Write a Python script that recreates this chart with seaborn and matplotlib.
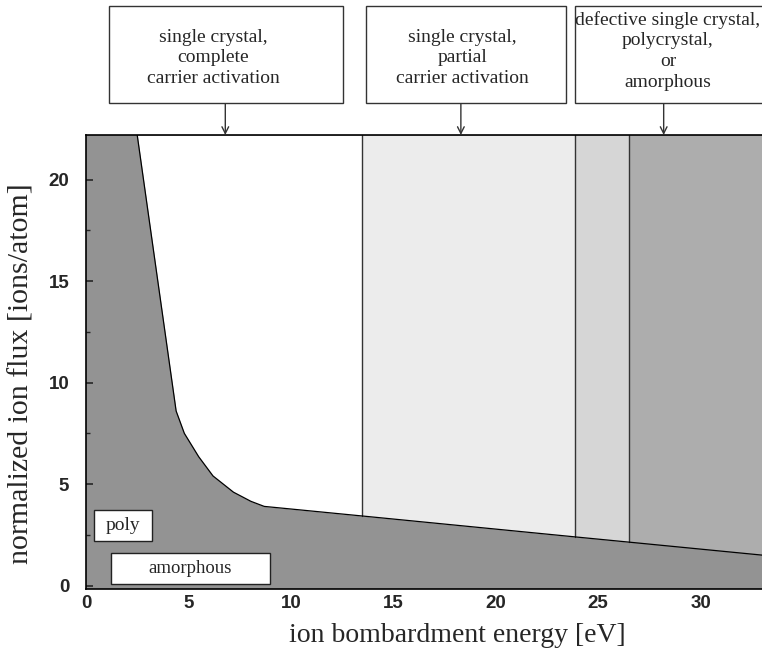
import matplotlib
matplotlib.use("Agg")
import matplotlib.pyplot as plt
from matplotlib.patches import Rectangle
from matplotlib.ticker import MultipleLocator
import numpy as np
import seaborn as sns

# ---- data ----
boundary_energy = [2.5, 4.4, 4.8, 5.5, 6.2, 7.2, 8.05, 8.7, 13.46, 23.85, 26.5, 33.0]
boundary_flux = [22.2, 8.6, 7.5, 6.35, 5.4, 4.6, 4.15, 3.9, 3.43, 2.40, 2.14, 1.5]
region_edges = [2.5, 13.46, 23.85, 26.5, 33.0]
region_colors = ["#ffffff", "#ececec", "#d6d6d6", "#adadad"]
background_color = "#939393"
arrow_energy = [6.8, 18.3, 28.2]
box_texts = [
    "single crystal,\ncomplete\ncarrier activation",
    "single crystal,\npartial\ncarrier activation",
    "defective single crystal,\npolycrystal,\nor\namorphous",
]
x_ticks = [0, 5, 10, 15, 20, 25, 30]
y_ticks = [0, 5, 10, 15, 20]
xlim = (0, 33.0)
ylim = (-0.17, 22.2)

sns.set_style("ticks")
plt.rcParams["font.family"] = ["Liberation Serif", "DejaVu Serif"]

W, H = 762, 659
fig = plt.figure(figsize=(W / 100, H / 100), dpi=100)
ax_left, ax_right, ax_top, ax_bottom = 86, 762, 135, 589
ax = fig.add_axes([ax_left / W, 1 - ax_bottom / H, (ax_right - ax_left) / W,
                   (ax_bottom - ax_top) / H])
ax.set_facecolor(background_color)
ax.set_xlim(*xlim)
ax.set_ylim(*ylim)

be = np.array(boundary_energy)
bf = np.array(boundary_flux)

# shaded regions above the boundary
for i, c in enumerate(region_colors):
    x0, x1 = region_edges[i], region_edges[i + 1]
    inner = be[(be > x0) & (be < x1)]
    xs = np.concatenate([[x0], inner, [x1]])
    ys = np.interp(xs, be, bf)
    ax.fill_between(xs, ys, ylim[1], color=c, lw=0, zorder=1)

# vertical region borders
for xe in region_edges[1:-1]:
    ax.plot([xe, xe], [np.interp(xe, be, bf), ylim[1]], color="#333333", lw=1.0, zorder=2)

# boundary line
sns.lineplot(x=boundary_energy, y=boundary_flux, sort=False, color="black", lw=0.9,
             ax=ax, zorder=3)

# small labelled boxes inside plot
ax.add_patch(Rectangle((0.4, 2.2), 2.8, 1.54, facecolor="white", edgecolor="#222222",
                       lw=1.0, zorder=4))
ax.text(1.8, 2.97, "poly", ha="center", va="center", fontsize=14, zorder=5)
ax.add_patch(Rectangle((1.2, 0.1), 7.8, 1.48, facecolor="white", edgecolor="#222222",
                       lw=1.0, zorder=4))
ax.text(5.1, 0.82, "amorphous", ha="center", va="center", fontsize=13.5, zorder=5)

# axes styling
for s in ["left", "bottom", "top"]:
    ax.spines[s].set_color("black")
    ax.spines[s].set_linewidth(1.2)
    ax.spines[s].set_zorder(6)
ax.spines["right"].set_visible(False)

ax.set_xticks(x_ticks)
ax.set_yticks(y_ticks)
ax.yaxis.set_minor_locator(MultipleLocator(2.5))
ax.tick_params(axis="x", length=0, pad=4, labelsize=13.5)
ax.tick_params(axis="y", which="major", direction="in", length=5, width=1.2, pad=12,
               labelsize=13.5)
ax.tick_params(axis="y", which="minor", direction="in", length=3, width=1.0)
for lab in ax.get_xticklabels() + ax.get_yticklabels():
    lab.set_fontfamily(["Liberation Sans", "DejaVu Sans"])
    lab.set_fontweight("bold")
ax.tick_params(right=False, top=False)

ax.set_xlabel("ion bombardment energy [eV]", fontsize=20)
ax.set_ylabel("normalized ion flux [ions/atom]", fontsize=21.5)
ax.xaxis.set_label_coords((457 - ax_left) / (ax_right - ax_left), -(635 - ax_bottom) / (ax_bottom - ax_top))
ax.yaxis.set_label_coords((22 - ax_left) / (ax_right - ax_left), (ax_bottom - 374) / (ax_bottom - ax_top))
ax.xaxis.label.set_va("center")
ax.yaxis.label.set_va("center")

# annotation boxes above the plot (figure pixel layout)
boxes_px = [(109, 343), (366, 566), (575, 830)]
text_cx = [213, 462, 668]
text_cy = [58, 58, 51]
box_top, box_bot = 6, 103
for (bx0, bx1), tx, ty, txt, xa in zip(boxes_px, text_cx, text_cy, box_texts, arrow_energy):
    fig.patches.append(Rectangle((bx0 / W, 1 - box_bot / H), (bx1 - bx0) / W,
                                 (box_bot - box_top) / H, transform=fig.transFigure,
                                 facecolor="white", edgecolor="#333333", lw=1.0))
    fig.text(tx / W, 1 - ty / H, txt, ha="center", va="center", fontsize=14,
             linespacing=1.3, multialignment="center")
    ax.annotate("", xy=(xa, 1.0), xycoords=("data", "axes fraction"),
                xytext=(xa, 1 - box_bot / H), textcoords=("data", "figure fraction"),
                arrowprops=dict(arrowstyle="->", color="#333333", lw=1.0,
                                shrinkA=0, shrinkB=0, mutation_scale=12),
                annotation_clip=False)

fig.savefig("out.png", dpi=100)
